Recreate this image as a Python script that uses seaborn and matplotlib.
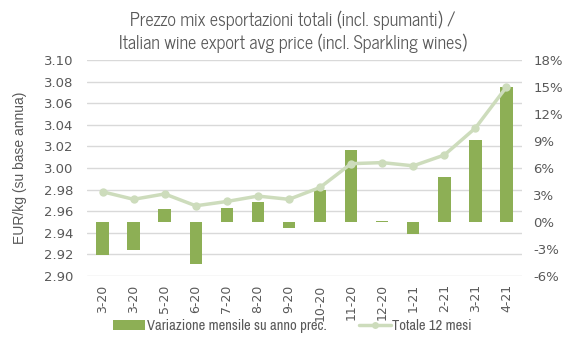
import numpy as np
import pandas as pd
import matplotlib
matplotlib.use("Agg")
import matplotlib.pyplot as plt
import seaborn as sns
from matplotlib.patches import Patch
from matplotlib.lines import Line2D
from matplotlib.ticker import FuncFormatter

months = ["3-20", "3-20", "5-20", "6-20", "7-20", "8-20", "9-20", "10-20",
          "11-20", "12-20", "1-21", "2-21", "3-21", "4-21"]
var_mensile = [-3.7, -3.15, 1.45, -4.7, 1.55, 2.25, -0.65, 3.55,
               8.0, 0.1, -1.3, 5.0, 9.1, 15.0]
totale_12m = [2.978, 2.971, 2.976, 2.965, 2.969, 2.974, 2.971, 2.982,
              3.004, 3.005, 3.002, 3.012, 3.037, 3.075]
title = "Prezzo mix esportazioni totali (incl. spumanti) /\nItalian wine export avg price (incl. Sparkling wines)"
bar_label = "Variazione mensile su anno prec."
line_label = "Totale 12 mesi"
left_label = "EUR/kg (su base annua)"

df = pd.DataFrame({"idx": np.arange(len(months)), "month": months,
                   "var": var_mensile, "tot": totale_12m})

sns.set_theme(style="white")
plt.rcParams["font.family"] = ["DejaVu Sans"]

bar_color = "#8daf55"
line_color = "#cddcbc"
txt = "#595959"
title_font = ["News Cycle", "Archivo Narrow", "DejaVu Sans"]
legend_font = ["Archivo Narrow", "DejaVu Sans"]

fig = plt.figure(figsize=(5.85, 3.46), dpi=100)
ax = fig.add_axes([87/585, 1-276/346, (522-87)/585, (276-60)/346])
axb = ax.twinx()
axl = ax.twinx()

n = len(months)

# bars on right (percent) scale
sns.barplot(data=df, x="idx", y="var", ax=axb, color=bar_color, width=0.4,
            saturation=1, linewidth=0)
axb.set_ylim(-6, 18)
axb.set_yticks(np.arange(-6, 18.1, 3))
axb.yaxis.set_major_formatter(FuncFormatter(lambda v, p: f"{v:.0f}%"))
axb.set_ylabel("")
axb.set_xlabel("")

# line on left scale, on top
sns.lineplot(data=df, x="idx", y="tot", ax=axl, color=line_color, linewidth=2.5,
             marker="o", markersize=6, markeredgewidth=0)
axl.set_ylim(2.90, 3.10)
axl.set_yticks([])
axl.set_ylabel("")
axl.set_xlabel("")

# grid / left scale
ax.set_ylim(2.90, 3.10)
ax.set_yticks(np.arange(2.90, 3.1001, 0.02))
ax.yaxis.set_major_formatter(FuncFormatter(lambda v, p: f"{v:.2f}"))
ax.grid(axis="y", color="#d9d9d9", linewidth=1)
ax.grid(axis="x", visible=False)
ax.set_axisbelow(True)

ax.set_xlim(-0.5, n - 0.5)
ax.set_xticks(np.arange(n))
ax.set_xticklabels(months, rotation=90, fontsize=9, color=txt)
for a in (axb, axl):
    a.tick_params(axis="x", labelbottom=False, bottom=False, top=False, labeltop=False)

for a in (ax, axb, axl):
    for s in a.spines.values():
        s.set_visible(False)

ax.tick_params(axis="y", labelsize=9.5, colors=txt, length=0, pad=10)
ax.tick_params(axis="x", length=0, pad=6)
axb.tick_params(axis="y", labelsize=9.5, colors=txt, length=0, pad=8)

ax.set_ylabel(left_label, fontsize=10, color=txt, family=["Liberation Sans", "DejaVu Sans"], labelpad=12)
ax.set_xlabel("")

fig.text(0.5, 0.908, title, ha="center", va="center", fontsize=13, color=txt,
         family=title_font, linespacing=1.2)

handles = [Patch(facecolor=bar_color, edgecolor="none"),
           Line2D([0], [0], color=line_color, linewidth=2.5, marker="o", markersize=5, markeredgewidth=0)]
fig.legend(handles, [bar_label, line_label], loc="center", bbox_to_anchor=(0.5, 0.058),
           ncol=2, frameon=False, prop={"family": legend_font, "size": 10.5},
           handlelength=2.2, handletextpad=0.1, columnspacing=2.2, labelcolor=txt)

fig.savefig("out.png", dpi=100)
